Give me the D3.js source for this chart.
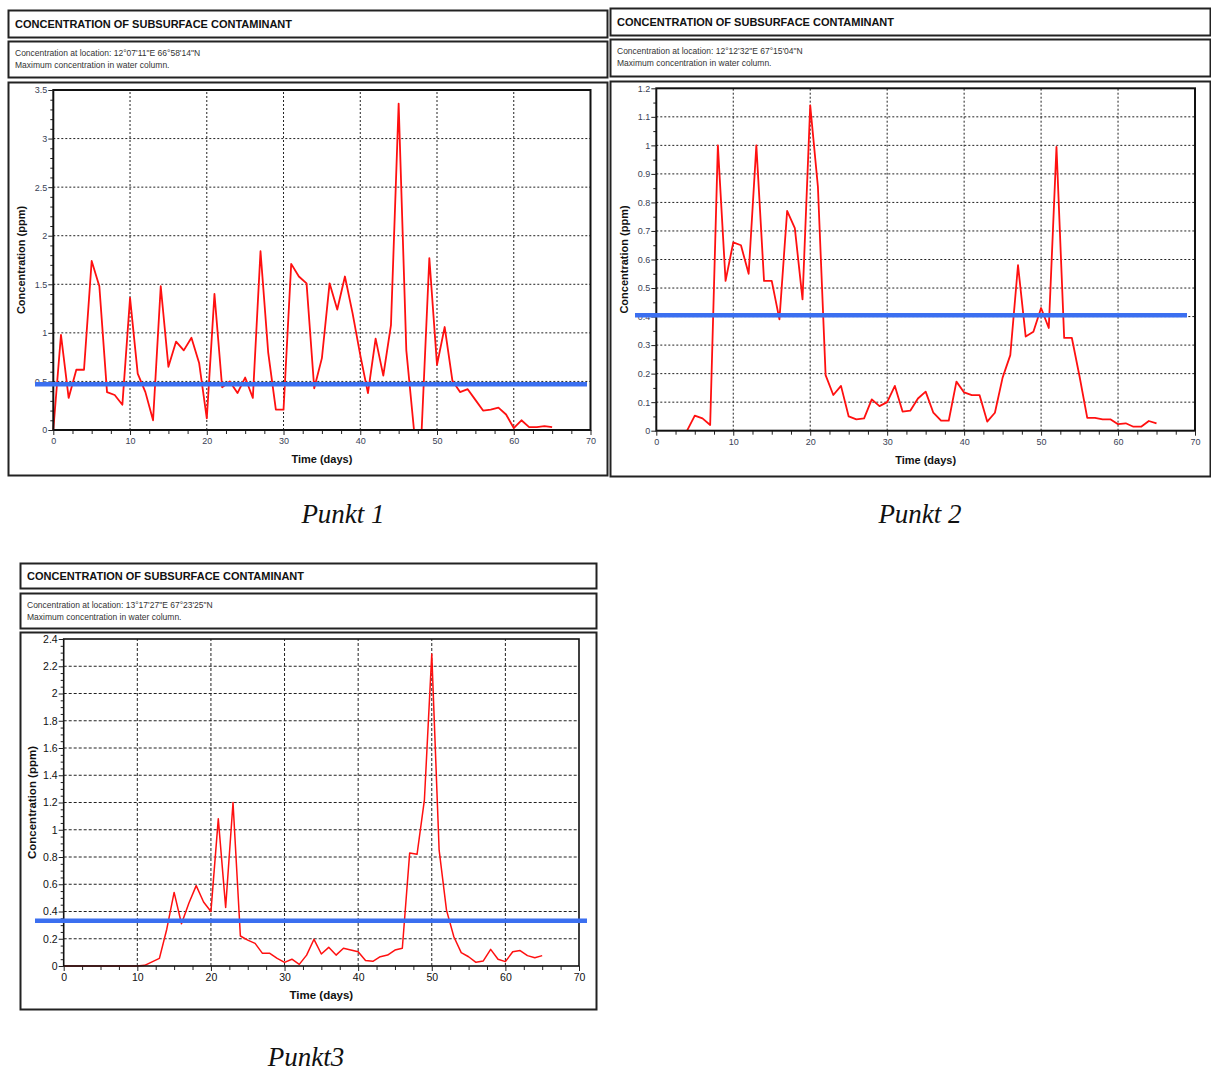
<!DOCTYPE html>
<html><head><meta charset="utf-8">
<script src="https://cdn.jsdelivr.net/npm/d3@7"></script>
<style>
body{margin:0;background:#fff;}
svg text{font-family:"Liberation Sans",Arial,sans-serif;}
</style></head>
<body><svg id="c" width="1211" height="1073"></svg>
<script>
// ---------- DATA ----------
const chartTitle = "CONCENTRATION OF SUBSURFACE CONTAMINANT";
const subLine2 = "Maximum concentration in water column.";
const locations = ["12°07'11\"E 66°58'14\"N", "12°12'32\"E 67°15'04\"N", "13°17'27\"E 67°23'25\"N"];
const captions = ["Punkt 1", "Punkt 2", "Punkt3"];
const xTicks = [0, 10, 20, 30, 40, 50, 60, 70];

const days1 = d3.range(0, 66);
const conc1 = [0,0.98,0.33,0.62,0.62,1.74,1.48,0.39,0.36,0.26,
  1.36,0.58,0.39,0.10,1.48,0.65,0.91,0.82,0.95,0.69,
  0.12,1.40,0.44,0.50,0.38,0.54,0.33,1.84,0.80,0.21,
  0.21,1.71,1.58,1.51,0.43,0.74,1.51,1.24,1.58,1.20,
  0.77,0.38,0.94,0.56,1.08,3.36,0.82,0,0,1.77,
  0.67,1.06,0.51,0.39,0.42,0.31,0.20,0.21,0.23,0.16,
  0.02,0.10,0.03,0.03,0.04,0.03];
const yTicks1 = [0, 0.5, 1, 1.5, 2, 2.5, 3, 3.5];
const threshold1 = 0.47;

const days2 = d3.range(4, 66);
const conc2 = [0,0.053,0.043,0.02,1.0,0.525,0.66,0.65,0.55,1.0,
  0.525,0.525,0.39,0.77,0.71,0.46,1.14,0.855,0.195,0.125,
  0.157,0.05,0.04,0.043,0.11,0.086,0.10,0.157,0.067,0.07,
  0.113,0.137,0.063,0.035,0.035,0.172,0.134,0.125,0.125,0.032,
  0.063,0.186,0.265,0.58,0.33,0.347,0.43,0.36,0.995,0.325,
  0.325,0.19,0.045,0.045,0.04,0.04,0.023,0.026,0.014,0.014,
  0.034,0.026];
const yTicks2 = [0,0.1,0.2,0.3,0.4,0.5,0.6,0.7,0.8,0.9,1,1.1,1.2];
const threshold2 = 0.405;

const days3 = d3.range(0, 66);
const conc3 = [0,0,0,0,0,0,0,0,0,0,
  0,0.005,0.03,0.056,0.27,0.54,0.31,0.46,0.59,0.47,
  0.40,1.08,0.43,1.20,0.22,0.19,0.166,0.093,0.093,0.056,
  0.027,0.05,0.012,0.08,0.196,0.088,0.137,0.08,0.13,0.117,
  0.105,0.04,0.034,0.068,0.08,0.117,0.13,0.83,0.82,1.22,
  2.29,0.85,0.41,0.215,0.098,0.068,0.027,0.037,0.122,0.05,
  0.032,0.105,0.113,0.076,0.061,0.076];
const yTicks3 = [0,0.2,0.4,0.6,0.8,1,1.2,1.4,1.6,1.8,2,2.2,2.4];
const threshold3 = 0.333;

// ---------- LAYOUT ----------
const panels = [
  {days:days1, conc:conc1, yTicks:yTicks1, thr:threshold1, loc:locations[0], cap:captions[0],
   tb:[8,10,599,27], sb:[8,41,599,36], pb:[8,82,599,393],
   px:[53.3,590.5], py:[430,90], blue:[35,587], yMinor:0.1,
   tickSize:9, tickColor:"#3a3f55", axisTitleSize:11, capPos:[343,523], grid:"2,2", frameW:2, lineW:1.8},
  {days:days2, conc:conc2, yTicks:yTicks2, thr:threshold2, loc:locations[1], cap:captions[1],
   tb:[610,8,600,27], sb:[610,39,600,37], pb:[610,81,600,395],
   px:[656.3,1195], py:[430.7,88.3], blue:[635,1187], yMinor:0.05,
   tickSize:9, tickColor:"#3a3f55", axisTitleSize:11, capPos:[920,523], grid:"2,2", frameW:2, lineW:1.8},
  {days:days3, conc:conc3, yTicks:yTicks3, thr:threshold3, loc:locations[2], cap:captions[2],
   tb:[20,563,576,25], sb:[20,593,576,35], pb:[20,632,576,377],
   px:[63.7,579], py:[966,639], blue:[35,587], yMinor:0.05,
   tickSize:10.5, tickColor:"#111", axisTitleSize:11.5, capPos:[306,1066], grid:"3,2", frameW:1.6, lineW:1.5}
];

const svg = d3.select("#c");

panels.forEach((p, i) => {
  const g = svg.append("g");
  // boxes
  [p.tb, p.sb, p.pb].forEach(b => {
    g.append("rect").attr("x", b[0]+0.5).attr("y", b[1]+0.5).attr("width", b[2]).attr("height", b[3])
      .attr("fill", "#fff").attr("stroke", "#222").attr("stroke-width", 2);
  });
  // title
  g.append("text").attr("x", p.tb[0]+7).attr("y", p.tb[1]+p.tb[3]/2+4)
    .attr("font-size", 11).attr("font-weight", "bold").attr("fill", "#111").text(chartTitle);
  g.append("text").attr("x", p.sb[0]+7).attr("y", p.sb[1]+15)
    .attr("font-size", 8.5).attr("fill", "#333").text("Concentration at location: " + p.loc);
  g.append("text").attr("x", p.sb[0]+7).attr("y", p.sb[1]+27)
    .attr("font-size", 8.5).attr("fill", "#333").text(subLine2);

  const x = d3.scaleLinear().domain([0, 70]).range(p.px);
  const yMax = p.yTicks[p.yTicks.length-1];
  const y = d3.scaleLinear().domain([0, yMax]).range(p.py);

  // grid
  const grid = g.append("g");
  grid.selectAll("line.v").data(xTicks.filter(t => t > 0 && t < 70)).join("line")
    .attr("x1", d => x(d)).attr("x2", d => x(d)).attr("y1", p.py[0]).attr("y2", p.py[1])
    .attr("stroke", "#222").attr("stroke-width", 1).attr("stroke-dasharray", p.grid);
  grid.selectAll("line.h").data(p.yTicks.filter(t => t > 0 && t < yMax)).join("line")
    .attr("x1", p.px[0]).attr("x2", p.px[1]).attr("y1", d => y(d)).attr("y2", d => y(d))
    .attr("stroke", "#222").attr("stroke-width", 1).attr("stroke-dasharray", p.grid);

  // minor ticks
  const xMinor = d3.range(0, 70.01, 2.5).filter(v => v % 10 !== 0);
  g.append("g").attr("transform", `translate(0,${p.py[0]})`)
    .call(d3.axisBottom(x).tickValues(xMinor).tickSize(4).tickFormat(""))
    .call(a => a.select(".domain").remove())
    .call(a => a.selectAll("line").attr("stroke", "#222"));
  const yMinorVals = d3.range(0, yMax + 1e-9, p.yMinor).filter(v => !p.yTicks.some(t => Math.abs(t - v) < 1e-6));
  g.append("g").attr("transform", `translate(${p.px[0]},0)`)
    .call(d3.axisLeft(y).tickValues(yMinorVals).tickSize(3).tickFormat(""))
    .call(a => a.select(".domain").remove())
    .call(a => a.selectAll("line").attr("stroke", "#222"));

  // data line
  const pts = p.days.map((d, k) => [d, p.conc[k]]);
  g.append("path").datum(pts)
    .attr("fill", "none").attr("stroke", "#ff1010").attr("stroke-width", p.lineW).attr("stroke-linejoin", "round")
    .attr("d", d3.line().x(d => x(d[0])).y(d => y(d[1])));

  // frame
  g.append("rect").attr("x", p.px[0]).attr("y", p.py[1]).attr("width", p.px[1]-p.px[0]).attr("height", p.py[0]-p.py[1])
    .attr("fill", "none").attr("stroke", "#111").attr("stroke-width", p.frameW);

  // major axes
  g.append("g").attr("transform", `translate(0,${p.py[0]})`)
    .call(d3.axisBottom(x).tickValues(xTicks).tickSize(5).tickPadding(3).tickFormat(d3.format("d")))
    .call(a => a.select(".domain").remove())
    .call(a => a.selectAll("line").attr("stroke", "#222"))
    .call(a => a.selectAll("text").attr("font-size", p.tickSize).attr("fill", p.tickColor)
      .attr("font-family", "Liberation Sans, Arial, sans-serif"));
  g.append("g").attr("transform", `translate(${p.px[0]},0)`)
    .call(d3.axisLeft(y).tickValues(p.yTicks).tickSize(5).tickPadding(1).tickFormat(d => String(+d.toFixed(2))))
    .call(a => a.select(".domain").remove())
    .call(a => a.selectAll("line").attr("stroke", "#222"))
    .call(a => a.selectAll("text").attr("font-size", p.tickSize).attr("fill", p.tickColor)
      .attr("font-family", "Liberation Sans, Arial, sans-serif"));

  // threshold line
  g.append("line").attr("x1", p.blue[0]).attr("x2", p.blue[1])
    .attr("y1", y(p.thr)).attr("y2", y(p.thr))
    .attr("stroke", "#3b6ff0").attr("stroke-width", 4.5);

  // axis titles
  const midX = (p.px[0] + p.px[1]) / 2, midY = (p.py[0] + p.py[1]) / 2;
  g.append("text").attr("x", midX).attr("y", p.py[0] + 33).attr("text-anchor", "middle")
    .attr("font-size", p.axisTitleSize).attr("font-weight", "bold").attr("fill", "#111").text("Time (days)");
  g.append("text").attr("transform", `translate(${p.px[0] - 28},${midY}) rotate(-90)`)
    .attr("text-anchor", "middle").attr("font-size", p.axisTitleSize).attr("font-weight", "bold")
    .attr("fill", "#111").text("Concentration (ppm)");

  // caption
  svg.append("text").attr("x", p.capPos[0]).attr("y", p.capPos[1]).attr("text-anchor", "middle")
    .style("font-family", "'Liberation Serif','Times New Roman',serif").style("font-style", "italic")
    .attr("font-size", 27).attr("fill", "#111").text(p.cap);
});
</script></body></html>
